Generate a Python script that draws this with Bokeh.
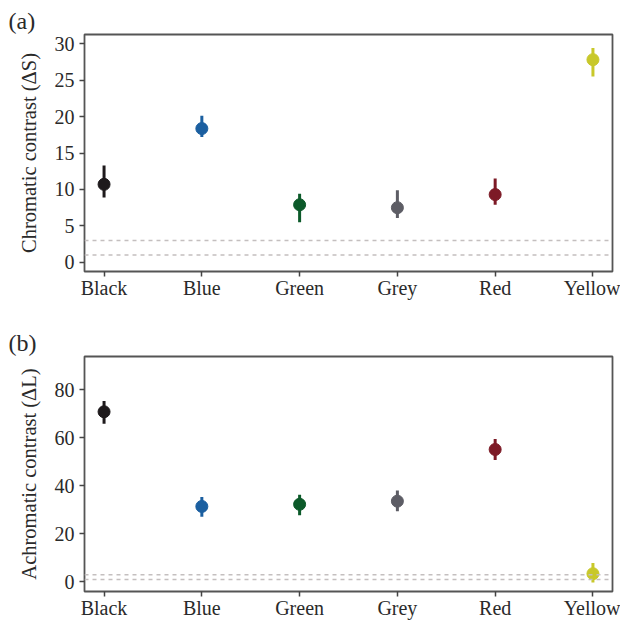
from bokeh.plotting import figure
from bokeh.layouts import column
from bokeh.models import FactorRange, Range1d, Span, Title, FixedTicker, ColumnDataSource
from bokeh.embed import file_html
from bokeh.resources import INLINE

categories = ["Black", "Blue", "Green", "Grey", "Red", "Yellow"]
colors = ["#1e1a1c", "#1b5fa0", "#0c5a2a", "#5d5d65", "#7d1a26", "#c8c82a"]

chrom_mean = [10.7, 18.35, 7.9, 7.5, 9.3, 27.8]
chrom_lo = [8.9, 17.2, 5.5, 6.1, 7.9, 25.5]
chrom_hi = [13.3, 20.1, 9.4, 9.9, 11.5, 29.4]

achrom_mean = [70.8, 31.4, 32.3, 33.6, 55.1, 3.4]
achrom_lo = [65.8, 27.1, 27.7, 29.4, 50.7, -0.3]
achrom_hi = [75.3, 35.3, 36.3, 38.0, 59.5, 7.9]

thresholds = [1, 3]
chrom_ticks = [0, 5, 10, 15, 20, 25, 30]
achrom_ticks = [0, 20, 40, 60, 80]

FONT = "Liberation Serif"


def make_panel(tag, ylabel, mean, lo, hi, yr, ticks, height, top, bottom):
    p = figure(width=620, height=height, output_backend="svg", toolbar_location=None,
               x_range=FactorRange(factors=categories, range_padding=-0.3,
                                   range_padding_units="absolute"),
               y_range=Range1d(*yr),
               min_border_left=84, min_border_right=8,
               min_border_top=top, min_border_bottom=bottom)
    p.grid.visible = False
    p.outline_line_color = "#555555"
    p.outline_line_width = 1.8
    p.background_fill_color = "white"
    p.border_fill_color = "white"

    for t in thresholds:
        p.add_layout(Span(location=t, dimension="width", line_color="#c4bfbf",
                          line_width=1.5, line_dash="4 4"))

    src = ColumnDataSource(dict(x=categories, m=mean, lo=lo, hi=hi, c=colors))
    p.segment(x0="x", y0="lo", x1="x", y1="hi", source=src, line_color="c", line_width=3)
    p.scatter(x="x", y="m", source=src, size=12, fill_color="c", line_color="c")

    for ax in (p.xaxis[0], p.yaxis[0]):
        ax.axis_line_color = None
        ax.major_tick_line_color = "#444444"
        ax.major_tick_line_width = 1.5
        ax.major_tick_in = 0
        ax.major_tick_out = 5
        ax.minor_tick_line_color = None
        ax.major_label_text_font = FONT
        ax.major_label_text_font_size = "20px"
        ax.major_label_text_color = "#2a2a2a"
    p.xaxis[0].major_label_standoff = 0
    p.yaxis[0].major_label_standoff = 5
    p.yaxis[0].ticker = FixedTicker(ticks=ticks)
    p.yaxis[0].axis_label = ylabel
    p.yaxis[0].axis_label_text_font = FONT
    p.yaxis[0].axis_label_text_font_size = "20.5px"
    p.yaxis[0].axis_label_text_font_style = "normal"
    p.yaxis[0].axis_label_text_color = "#2a2a2a"
    p.yaxis[0].axis_label_standoff = 12

    p.add_layout(Title(text=tag, align="left", offset=-76, standoff=2,
                       text_font=FONT, text_font_size="24px",
                       text_font_style="normal", text_color="#2a2a2a"), "above")
    return p


pa = make_panel("(a)", "Chromatic contrast (ΔS)", chrom_mean, chrom_lo, chrom_hi,
                (-1.25, 31.25), chrom_ticks, 310, 34, 39)
pb = make_panel("(b)", "Achromatic contrast (ΔL)", achrom_mean, achrom_lo, achrom_hi,
                (-4.0, 93.8), achrom_ticks, 311, 46, 27)

layout = column(pa, pb, spacing=0)
open("out.html", "w").write(file_html(layout, INLINE))
